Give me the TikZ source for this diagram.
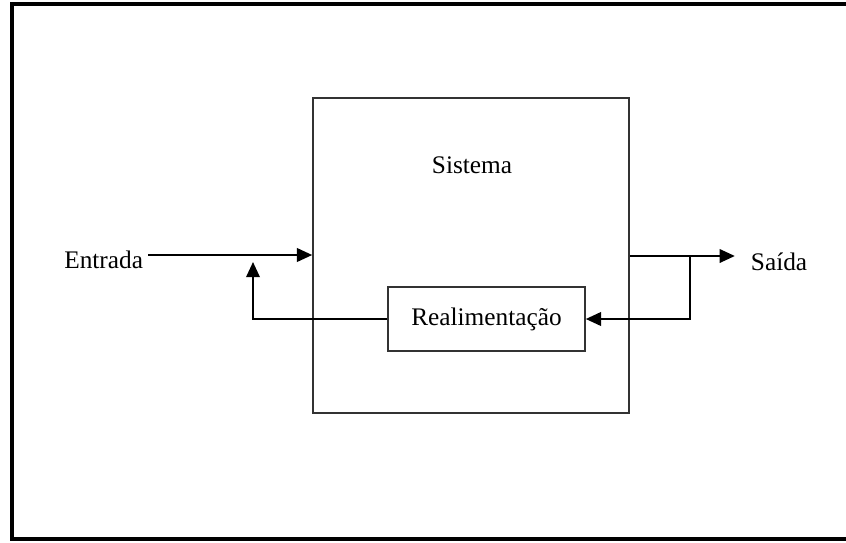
\documentclass[tikz,border=0pt]{standalone}
\usepackage{fontspec}
\setmainfont{Liberation Serif}
\usetikzlibrary{arrows.meta}

\tikzset{
  block/.style={draw=black!80, line width=1.1pt, fill=white},
  flow/.style={line width=1.3pt, -{Triangle[length=0.38cm,width=0.34cm]}},
  lbl/.style={font=\fontsize{18}{21}\selectfont}
}

\begin{document}
\begin{tikzpicture}[x=0.025cm, y=0.025cm]
\useasboundingbox (0,0) rectangle (846,542);

% frame
\draw [line width=2.2pt] (846,538) -- (12,538) -- (12,3) -- (846,3);

% system and feedback blocks
\node [block, minimum width=7.9cm, minimum height=7.875cm] (sys) at (471,286.5) {};
\node [lbl] (name) at (472,377) {Sistema};
\node [block, lbl, minimum width=4.925cm, minimum height=1.6cm] (fb) at (486.5,223) {Realimenta\c{c}\~ao};

\node [lbl, anchor=east] (ent) at (148,282) {Entrada};
\node [lbl, anchor=west] (sai) at (746,280) {Sa\'ida};

\coordinate (jin) at (sys.west |- 0,287);
\coordinate (jout) at (sys.east |- 0,286);
\coordinate (br) at (690,286);
\coordinate (ret) at (253,280);

% input
\draw [flow] (ent.east |- jin) -- (jin);

% output
\draw [flow, shorten >=0.28cm] (jout) -- (sai.west |- jout);

% feedback loop
\draw [flow] (br) |- (fb.east);
\draw [flow] (fb.west) -| (ret);

\end{tikzpicture}
\end{document}
